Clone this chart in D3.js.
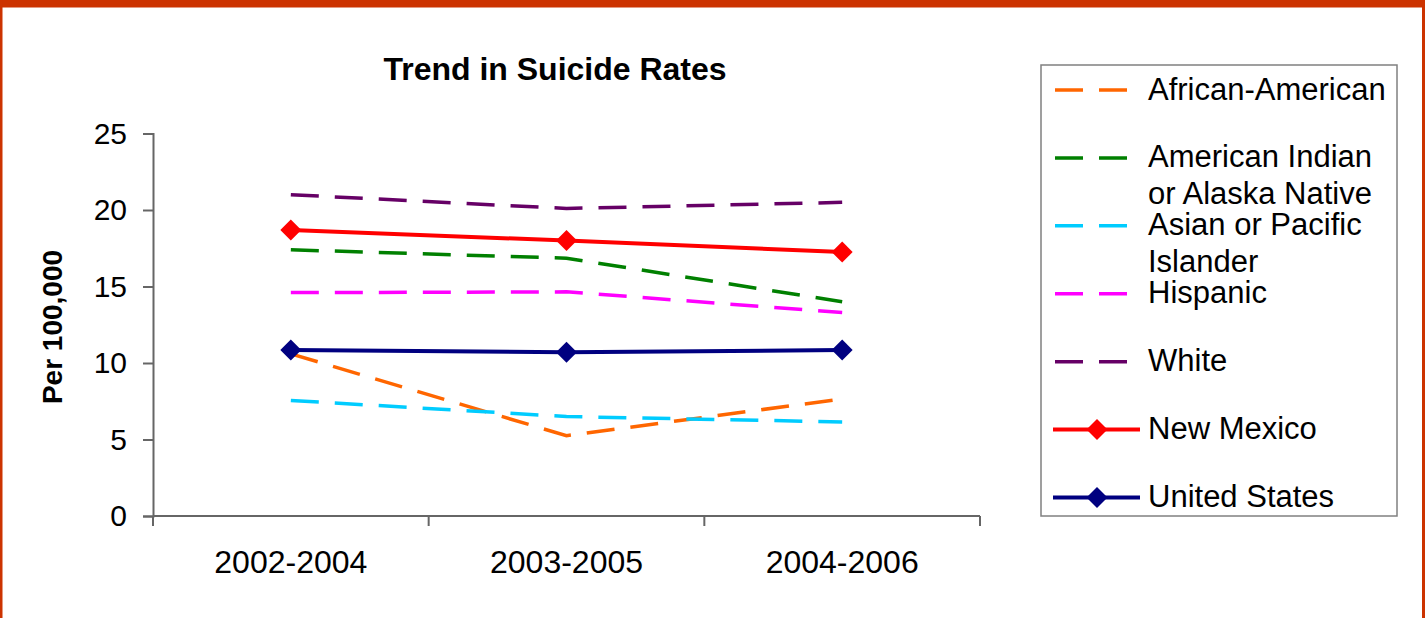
<!DOCTYPE html>
<html>
<head>
<meta charset="utf-8">
<script src="https://cdn.jsdelivr.net/npm/d3@7"></script>
<style>
  html, body { margin: 0; padding: 0; background: #fff; }
  svg { display: block; font-family: Arial, "Liberation Sans", sans-serif; }
</style>
</head>
<body>
<svg id="chart" width="1425" height="618"></svg>
<script>
// Three-year periods on the x axis
const periods = ["2002-2004", "2003-2005", "2004-2006"];
const yTicks = [0, 5, 10, 15, 20, 25];

// Suicide rates per 100,000
const africanAmerican = [10.6, 5.25, 7.65];
const americanIndian  = [17.4, 16.85, 14.0];
const asianPacific    = [7.55, 6.5, 6.15];
const hispanic        = [14.6, 14.65, 13.3];
const white           = [21.0, 20.1, 20.5];
const newMexico       = [18.7, 18.0, 17.25];
const unitedStates    = [10.85, 10.7, 10.85];

const seriesNames = [
  ["African-American"],
  ["American Indian", "or Alaska Native"],
  ["Asian or Pacific", "Islander"],
  ["Hispanic"],
  ["White"],
  ["New Mexico"],
  ["United States"]
];
const seriesValues = [africanAmerican, americanIndian, asianPacific, hispanic, white, newMexico, unitedStates];
const seriesColors = ["#FF6600", "#008000", "#00CCFF", "#FF00FF", "#660066", "#FF0000", "#000080"];
const seriesDashed = [true, true, true, true, true, false, false];

const series = seriesNames.map((n, i) => ({
  name: n, values: seriesValues[i], color: seriesColors[i], dashed: seriesDashed[i]
}));

const svg = d3.select("#chart");

// frame
svg.append("rect").attr("x", 0).attr("y", 0).attr("width", 1425).attr("height", 7.5).attr("fill", "#CC3300");
svg.append("rect").attr("x", 0).attr("y", 0).attr("width", 2.5).attr("height", 618).attr("fill", "#CC3300");
svg.append("rect").attr("x", 1422).attr("y", 0).attr("width", 3).attr("height", 618).attr("fill", "#CC3300");

const plot = { left: 153, right: 980, top: 133.5, bottom: 516 };

const x = d3.scaleBand().domain(periods).range([plot.left, plot.right]).paddingInner(0).paddingOuter(0);
const y = d3.scaleLinear().domain([0, 25]).range([plot.bottom, plot.top]);
const cx = p => x(p) + x.bandwidth() / 2;

// title
svg.append("text")
  .attr("x", 555).attr("y", 80)
  .attr("text-anchor", "middle")
  .attr("font-weight", "bold").attr("font-size", 32)
  .text("Trend in Suicide Rates");

// y axis
const yAxis = svg.append("g")
  .attr("transform", `translate(${plot.left},0)`)
  .call(d3.axisLeft(y).tickValues(yTicks).tickSize(10).tickPadding(16).tickFormat(d3.format("d")));
yAxis.select(".domain").attr("stroke", "#666").attr("stroke-width", 2);
yAxis.selectAll(".tick line").attr("stroke", "#666").attr("stroke-width", 2);
yAxis.selectAll(".tick text").attr("font-size", 30).attr("fill", "#000")
  .attr("font-family", "Arial, 'Liberation Sans', sans-serif");

// x axis with tick marks at category boundaries
const xAxis = svg.append("g").attr("transform", `translate(0,${plot.bottom})`);
xAxis.append("line")
  .attr("x1", plot.left).attr("x2", plot.right)
  .attr("stroke", "#666").attr("stroke-width", 2);
const boundaries = periods.map(p => x(p)).concat([x(periods[periods.length - 1]) + x.bandwidth()]);
xAxis.selectAll("line.tick").data(boundaries).enter().append("line")
  .attr("class", "tick")
  .attr("x1", d => d).attr("x2", d => d)
  .attr("y1", 0).attr("y2", 10)
  .attr("stroke", "#666").attr("stroke-width", 2);
xAxis.selectAll("text").data(periods).enter().append("text")
  .attr("x", d => cx(d)).attr("y", 57)
  .attr("text-anchor", "middle").attr("font-size", 32)
  .text(d => d);

// y axis title
svg.append("text")
  .attr("transform", "translate(62,327) rotate(-90)")
  .attr("text-anchor", "middle")
  .attr("font-weight", "bold").attr("font-size", 28)
  .text("Per 100,000");

// lines
const line = d3.line().x((d, i) => cx(periods[i])).y(d => y(d));

const gLines = svg.append("g");
series.forEach(s => {
  gLines.append("path")
    .datum(s.values)
    .attr("d", line)
    .attr("fill", "none")
    .attr("stroke", s.color)
    .attr("stroke-width", s.dashed ? 3.5 : 4)
    .attr("stroke-dasharray", s.dashed ? "28 16" : null);
});
// diamond markers on the solid series
series.filter(s => !s.dashed).forEach(s => {
  gLines.selectAll(null).data(s.values).enter().append("path")
    .attr("d", d3.symbol().type(d3.symbolSquare).size(220))
    .attr("transform", (d, i) => `translate(${cx(periods[i])},${y(d)}) rotate(45)`)
    .attr("fill", s.color);
});

// legend
const legend = svg.append("g");
legend.append("rect")
  .attr("x", 1041).attr("y", 65).attr("width", 356).attr("height", 451)
  .attr("fill", "#fff").attr("stroke", "#808080").attr("stroke-width", 1.5);

const rowY = d3.scaleLinear().domain([0, series.length - 1]).range([90, 497.5]);
series.forEach((s, i) => {
  const ly = rowY(i);
  const row = legend.append("g");
  if (s.dashed) {
    row.append("line")
      .attr("x1", 1055).attr("x2", 1127).attr("y1", ly).attr("y2", ly)
      .attr("stroke", s.color).attr("stroke-width", 3.5)
      .attr("stroke-dasharray", "28 16");
  } else {
    row.append("line")
      .attr("x1", 1053).attr("x2", 1140).attr("y1", ly).attr("y2", ly)
      .attr("stroke", s.color).attr("stroke-width", 4);
    row.append("path")
      .attr("d", d3.symbol().type(d3.symbolSquare).size(220))
      .attr("transform", `translate(1097,${ly}) rotate(45)`)
      .attr("fill", s.color);
  }
  const t = row.append("text")
    .attr("x", 1148).attr("y", ly + 9.5)
    .attr("font-size", 31);
  s.name.forEach((ln, k) => {
    t.append("tspan").attr("x", 1148).attr("dy", k === 0 ? 0 : 37).text(ln);
  });
});
</script>
</body>
</html>
